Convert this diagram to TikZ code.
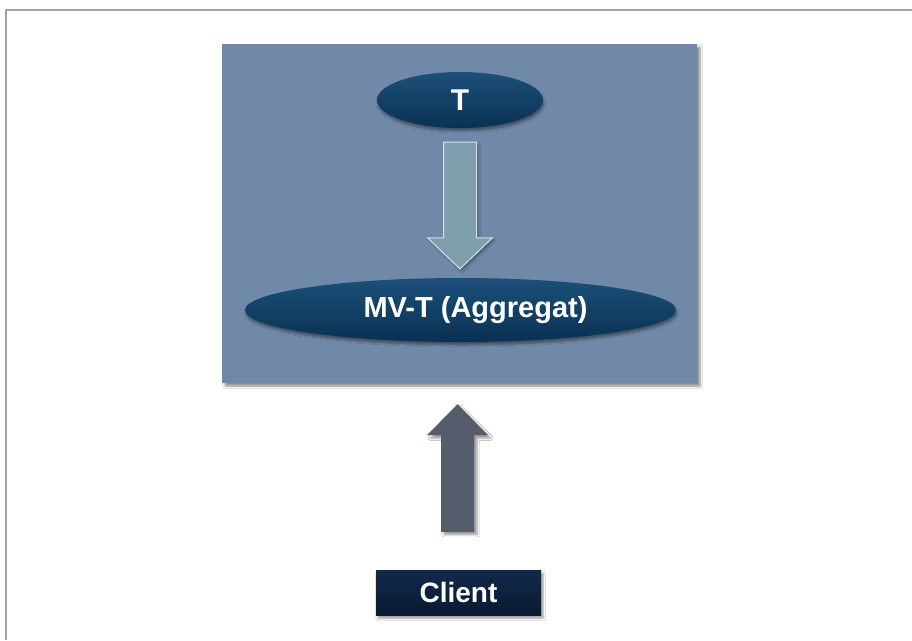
\documentclass[tikz,border=0pt]{standalone}
\usepackage{fontspec}
\setmainfont{Liberation Sans}
\usetikzlibrary{shapes.geometric,shadows.blur,calc}

\definecolor{framegray}{HTML}{A3A3A3}
\definecolor{panelblue}{HTML}{7189A8}
\definecolor{ovaltop}{HTML}{1B5079}
\definecolor{ovalbot}{HTML}{0A3152}
\definecolor{flowfill}{HTML}{7F9EAE}
\definecolor{flowedge}{HTML}{D6E0E6}
\definecolor{pushfill}{HTML}{555D6D}
\definecolor{clienttop}{HTML}{12294A}
\definecolor{clientbot}{HTML}{081A31}

\tikzset{
  panel/.style={rectangle, fill=panelblue, minimum width=475pt, minimum height=339pt,
    blur shadow={shadow xshift=3pt, shadow yshift=-3pt, shadow blur steps=6, shadow opacity=45}},
  oval/.style={ellipse, inner sep=0pt, top color=ovaltop, bottom color=ovalbot,
    text=white, font=\bfseries\fontsize{29}{31}\selectfont,
    blur shadow={shadow xshift=1pt, shadow yshift=-3pt, shadow blur steps=5, shadow opacity=40}},
  clientbox/.style={rectangle, top color=clienttop, bottom color=clientbot,
    minimum width=165pt, minimum height=45pt, text=white,
    font=\bfseries\fontsize{28}{30}\selectfont,
    blur shadow={shadow xshift=2pt, shadow yshift=-3pt, shadow blur steps=5, shadow opacity=40}},
  flowarrow/.style={fill=flowfill, draw=flowedge, line width=1pt, line join=miter,
    blur shadow={shadow xshift=2pt, shadow yshift=-2pt, shadow blur steps=4, shadow opacity=35}},
  pusharrow/.style={fill=pushfill,
    blur shadow={shadow xshift=3pt, shadow yshift=-3pt, shadow blur steps=5, shadow opacity=40}},
}

\begin{document}
\begin{tikzpicture}[x=1pt,y=-1pt]
\useasboundingbox (0,0) rectangle (912,640);
\fill[white] (0,0) rectangle (912,640);

% page frame: top and left edges only
\draw[framegray, line width=2pt] (6,640) -- (6,10) -- (912,10);

% model panel with the base table and its materialized view
\node[panel] (panel) at (459.5,213.5) {};
\node[oval, minimum width=166pt, minimum height=56pt, font=\bfseries\fontsize{30}{32}\selectfont] (tnode) at (460,100) {T};
\node[oval, minimum width=431pt, minimum height=64pt] (mvt) at (460.5,310) {\hspace*{30pt}MV-T (Aggregat)};

% broad arrow from T down to the aggregate view
\coordinate (dtop) at ($(tnode.south)+(0,14)$);
\coordinate (dtip) at ($(mvt.north)+(-0.5,-9)$);
\draw[flowarrow]
  ($(dtop)+(-16.5,0)$) -- ($(dtop)+(16.5,0)$) -- ($(dtip)+(16.5,-31)$) --
  ($(dtip)+(32.5,-31)$) -- (dtip) -- ($(dtip)+(-32.5,-31)$) --
  ($(dtip)+(-16.5,-31)$) -- cycle;

% client querying the panel
\node[clientbox] (client) at (458.5,592.5) {Client};
\coordinate (utip) at ($(panel.south)+(-2,21)$);
\coordinate (ubot) at ($(client.north)+(-1,-38)$);
\fill[pusharrow]
  ($(ubot)+(-16.5,0)$) -- ($(ubot)+(16.5,0)$) -- ($(utip)+(16.5,31)$) --
  ($(utip)+(30.5,31)$) -- (utip) -- ($(utip)+(-30.5,31)$) --
  ($(utip)+(-16.5,31)$) -- cycle;
\end{tikzpicture}
\end{document}
